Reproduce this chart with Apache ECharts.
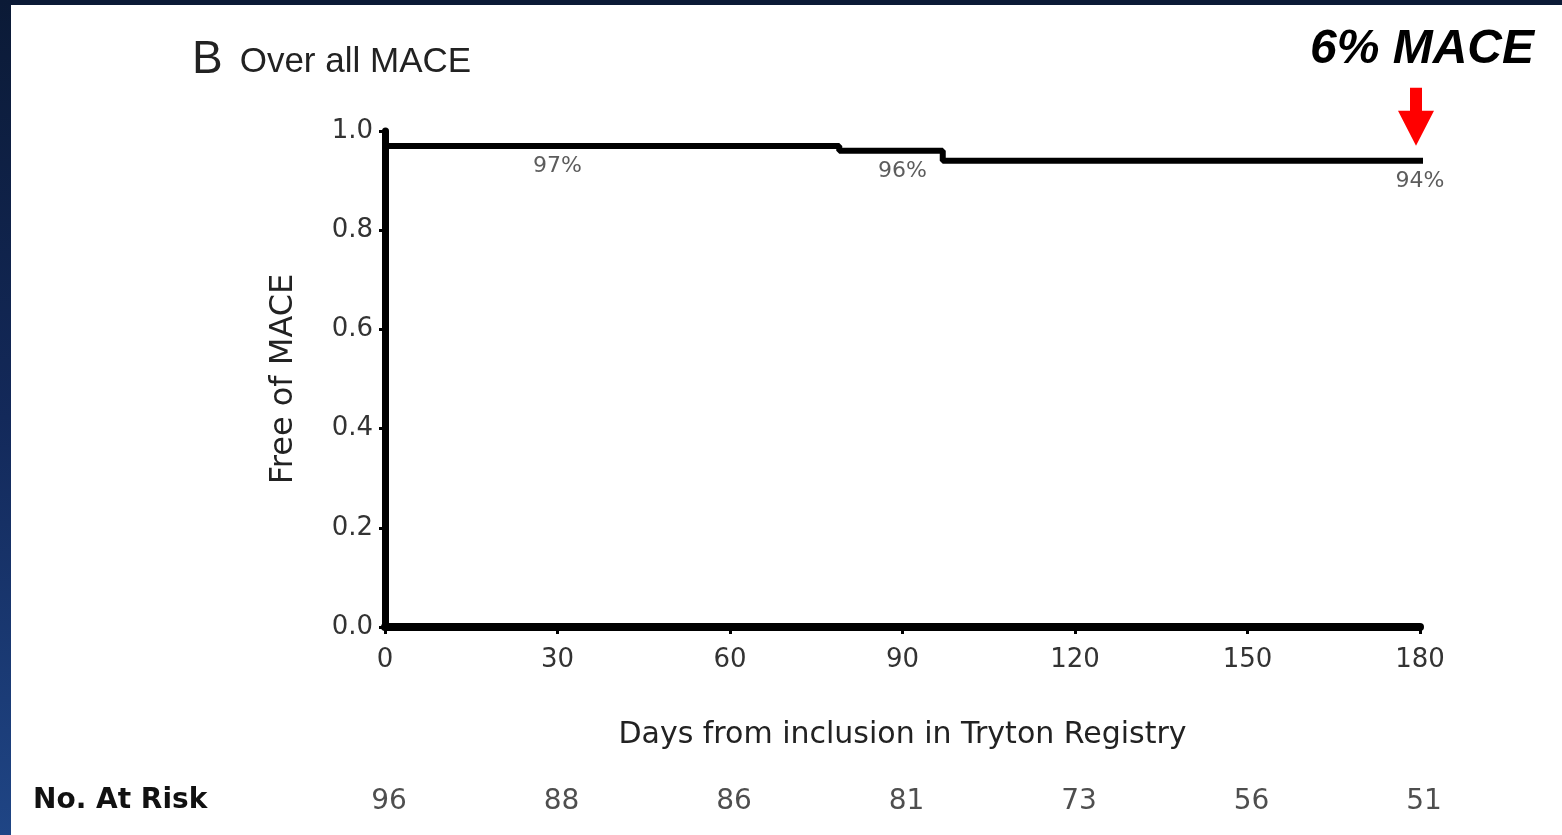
<!DOCTYPE html>
<html>
<head>
<meta charset="utf-8">
<script src="https://cdn.jsdelivr.net/npm/echarts@6/dist/echarts.min.js"></script>
<style>
  html, body { margin:0; padding:0; width:1562px; height:835px; overflow:hidden; background:#ffffff; }
  #topbar { position:absolute; left:0; top:0; width:1562px; height:5px; background:#0b1a36; }
  #leftbar { position:absolute; left:0; top:0; width:11px; height:835px; background:linear-gradient(to bottom, #0b1a36 0%, #13295a 50%, #1f4585 100%); }
  #chart { position:absolute; left:0; top:0; width:1562px; height:835px; }
</style>
</head>
<body>
<div id="topbar"></div>
<div id="leftbar"></div>
<div id="chart"></div>
<script>
// ---- data ----
const stepDays = [0, 79, 97, 181];
const stepSurvival = [0.97, 0.96, 0.94, 0.94];
const pctDays = [30, 90, 180];
const pctValues = [0.97, 0.96, 0.94];
const pctLabels = ['97%', '96%', '94%'];
const riskDays = [0, 30, 60, 90, 120, 150, 180];
const riskCounts = [96, 88, 86, 81, 73, 56, 51];
const xTicks = [0, 30, 60, 90, 120, 150, 180];
const yTicks = [0.0, 0.2, 0.4, 0.6, 0.8, 1.0];

const FONT = '"Liberation Sans", Arial, Helvetica, sans-serif';
const WIDE = '"DejaVu Sans", "Liberation Sans", sans-serif';
const chart = echarts.init(document.getElementById('chart'), null, {renderer:'canvas'});

const linePts = stepDays.map((d, i) => [d, stepSurvival[i]]);
const pctPts = pctDays.map((d, i) => [d, pctValues[i], pctLabels[i]]);
const riskPts = riskDays.map((d, i) => [d, 0.5, riskCounts[i]]);

const baseGraphic = [
  { type: 'text', left: 33, top: 787,
    style: { text: 'No. At Risk', fontFamily: WIDE, fontSize: 28, fontWeight: 'bold', fill: '#111' } },
  { type: 'text', right: 28, top: 26,
    style: { text: '6% MACE', fontFamily: FONT, fontSize: 48, fontWeight: 'bold', fontStyle: 'italic', fill: '#000' } }
];

const option = {
  backgroundColor: 'transparent',
  animation: false,
  title: {
    text: '{b|B} {t|Over all MACE}',
    left: 187, top: 32,
    textStyle: {
      fontWeight: 'normal',
      rich: {
        b: { fontFamily: FONT, fontSize: 46, fontWeight: 'normal', color: '#222' },
        t: { fontFamily: FONT, fontSize: 35, fontWeight: 'normal', color: '#222', padding: [4, 0, 0, 12] }
      }
    }
  },
  grid: [
    { left: 385, right: 142, top: 131, bottom: 208 },
    { left: 385, right: 142, top: 782, height: 40 }
  ],
  xAxis: [
    {
      gridIndex: 0, type: 'value', min: 0, max: 180, interval: 30,
      name: 'Days from inclusion in Tryton Registry',
      nameLocation: 'middle', nameGap: 93,
      nameTextStyle: { fontFamily: WIDE, fontSize: 30, color: '#222' },
      axisLine: { show: true, onZero: false, lineStyle: { color: '#000', width: 8 } },
      axisTick: { show: true, length: 7, lineStyle: { color: '#000', width: 3 } },
      axisLabel: { fontFamily: WIDE, fontSize: 26, color: '#333', margin: 20,
        formatter: v => xTicks.includes(v) ? String(v) : '' },
      splitLine: { show: false }
    },
    {
      gridIndex: 1, type: 'value', min: 0, max: 180, show: false
    }
  ],
  yAxis: [
    {
      gridIndex: 0, type: 'value', min: 0, max: 1.0, interval: 0.2,
      name: 'Free of MACE',
      nameLocation: 'middle', nameGap: 85, nameRotate: 90,
      nameTextStyle: { fontFamily: WIDE, fontSize: 32, color: '#222' },
      axisLine: { show: true, lineStyle: { color: '#000', width: 7 } },
      axisTick: { show: true, length: 6, lineStyle: { color: '#000', width: 3 } },
      axisLabel: { fontFamily: WIDE, fontSize: 26, color: '#333', margin: 12,
        formatter: v => yTicks.some(t => Math.abs(t - v) < 1e-9) ? v.toFixed(1) : '' },
      splitLine: { show: false }
    },
    {
      gridIndex: 1, type: 'value', min: 0, max: 1, show: false
    }
  ],
  series: [
    {
      type: 'line', xAxisIndex: 0, yAxisIndex: 0,
      step: 'end', data: linePts, symbol: 'none',
      lineStyle: { color: '#000', width: 6 }, z: 3
    },
    {
      type: 'scatter', xAxisIndex: 0, yAxisIndex: 0,
      data: pctPts, symbolSize: 1, itemStyle: { color: 'rgba(0,0,0,0)' },
      label: { show: true, position: 'bottom', distance: 9,
        formatter: p => p.value[2],
        fontFamily: WIDE, fontSize: 22, color: '#333' }, z: 4
    },
    {
      type: 'scatter', xAxisIndex: 1, yAxisIndex: 1,
      data: riskPts, symbolSize: 1, itemStyle: { color: 'rgba(0,0,0,0)' },
      label: { show: true, position: 'inside', offset: [4, 0],
        formatter: p => String(p.value[2]),
        fontFamily: WIDE, fontSize: 28, color: '#222' }
    }
  ],
  graphic: baseGraphic
};
chart.setOption(option);

// red arrow pointing at the final survival point
const tip = chart.convertToPixel({ gridIndex: 0 }, [180, 0.94]);
const ax = tip[0] - 4, tipY = tip[1] - 15;
chart.setOption({
  graphic: baseGraphic.concat([
    { type: 'polygon', shape: { points: [
        [ax - 6, tipY - 58], [ax + 6, tipY - 58], [ax + 6, tipY - 35], [ax + 18, tipY - 35],
        [ax, tipY], [ax - 18, tipY - 35], [ax - 6, tipY - 35]
      ] }, style: { fill: '#ff0000' } }
  ])
});
</script>
</body>
</html>
